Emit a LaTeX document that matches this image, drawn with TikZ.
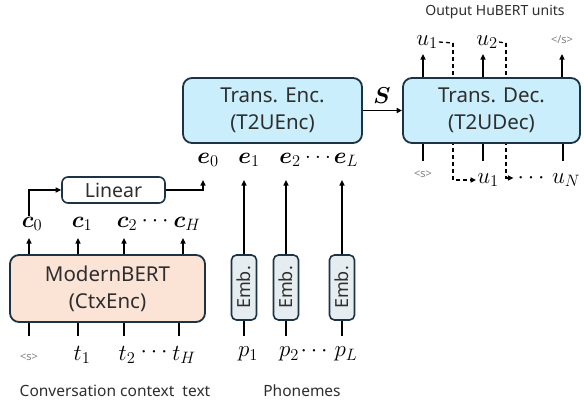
\RequirePackage{fix-cm}
\documentclass[tikz,border=0pt]{standalone}
\usepackage{amsmath,bm}
\usepackage{fontspec}
\setmainfont{Noto Sans}
\DeclareMathSizes{23}{23}{16.5}{12}
\usetikzlibrary{arrows.meta}
\definecolor{peach}{HTML}{FBE3D6}
\definecolor{blueF}{HTML}{CAEEFB}
\definecolor{embF}{HTML}{E6EDF0}
\definecolor{bord}{HTML}{1B3345}
\definecolor{txt}{HTML}{2E2E2E}
\definecolor{gtxt}{HTML}{808080}
\pgfdeclarelayer{bg}
\pgfsetlayers{bg,main}
\tikzset{
  bigbox/.style={draw=bord, line width=1.8pt, rounded corners=9pt, align=center,
    text=txt, font=\fontsize{20.5}{27}\selectfont, inner sep=0pt},
  embbox/.style={draw=bord, line width=1.6pt, rounded corners=5pt, fill=embF,
    minimum width=25, minimum height=65, inner sep=0pt, text=txt,
    font=\fontsize{18}{20}\selectfont},
  linbox/.style={draw=bord, line width=1.6pt, rounded corners=6pt, fill=white,
    minimum width=103, minimum height=26, inner sep=0pt, text=txt,
    font=\fontsize{19.5}{22}\selectfont},
  ml/.style={font=\fontsize{23}{26}\selectfont, inner sep=1pt},
  tinytxt/.style={font=\fontsize{11}{12}\selectfont, text=gtxt, inner sep=1pt},
  captxt/.style={font=\fontsize{15.5}{17}\selectfont, text=txt},
  arr/.style={line width=1.4pt, -{Triangle[length=5.5pt,width=5pt]}},
  ln/.style={line width=1.4pt},
  dsh/.style={line width=1.3pt, dash pattern=on 4pt off 3pt}
}
\begin{document}
\begin{tikzpicture}[x=1pt,y=-1pt]
\begin{pgfonlayer}{bg}
\fill[white] (0,0) rectangle (584,410);
\end{pgfonlayer}
\useasboundingbox (0,0) rectangle (584,410);

% boxes
\node[bigbox, fill=peach, minimum width=195, minimum height=67] (bert) at (107.5,288.5) {ModernBERT\\(CtxEnc)};
\node[bigbox, fill=blueF, minimum width=179, minimum height=65] (enc) at (272.5,110.5) {Trans. Enc.\\(T2UEnc)};
\node[bigbox, fill=blueF, minimum width=177, minimum height=65] (dec) at (491.5,110.5) {Trans. Dec.\\(T2UDec)};
\node[linbox] (lin) at (113.5,190) {Linear};
\node[embbox] (emb1) at (244,287.5) {\rotatebox{90}{Emb.}};
\node[embbox] (emb2) at (286,287.5) {\rotatebox{90}{Emb.}};
\node[embbox] (embL) at (342,287.5) {\rotatebox{90}{Emb.}};

% c labels
\node[ml] (c0) at (32,224) {$\bm{c}_0$};
\node[ml] (c1) at (82,224) {$\bm{c}_1$};
\node[ml] (c2) at (127,224) {$\bm{c}_2$};
\node[ml] (cd) at (157,221) {$\cdots$};
\node[ml] (cH) at (187,224) {$\bm{c}_H$};

% t labels
\node[tinytxt] (s0) at (29,357) {<s>};
\node[ml] (t1) at (82,355) {$t_1$};
\node[ml] (t2) at (127,355) {$t_2$};
\node[ml] (td) at (156,352) {$\cdots$};
\node[ml] (tH) at (184,355) {$t_H$};

% e labels
\node[ml] (e0) at (208,160) {$\bm{e}_0$};
\node[ml] (e1) at (249,160) {$\bm{e}_1$};
\node[ml] (e2) at (290,160) {$\bm{e}_2$};
\node[ml] (ed) at (318,157) {$\ldots$};
\node[ml] (eL) at (346,160) {$\bm{e}_L$};

% p labels
\node[ml] (p1) at (248,354) {$p_1$};
\node[ml] (p2) at (289,354) {$p_2$};
\node[ml] (pd) at (316,351) {$\cdots$};
\node[ml] (pL) at (346,354) {$p_L$};

% decoder labels
\node[ml] (uo1) at (427,42) {$u_1$};
\node[ml] (uo2) at (487,42) {$u_2$};
\node[tinytxt] (eos) at (562,40) {</s>};
\node[tinytxt] (sd) at (423,174) {<s>};
\node[ml] (ui1) at (488,180) {$u_1$};
\node[ml] (uid) at (533,178) {$\cdots$};
\node[ml] (uiN) at (566,180) {$u_N$};
\node[ml] (S) at (382,96) {$\bm{S}$};

% captions
\node[captxt] (cap1) at (115,391) {Conversation context\ \ text};
\node[captxt] (cap2) at (302,391) {Phonemes};
\node[font=\fontsize{14}{16}\selectfont, text=txt] (cap3) at (495,12) {Output HuBERT units};

% ModernBERT outputs
\foreach \x in {29,78,124,183} \draw[arr] (bert.north -| \x,0) -- (\x,238);
% ModernBERT inputs
\foreach \x in {29,78,124,179} \draw[ln] (bert.south -| \x,0) -- ++(0,13);

% Linear path
\draw[arr] (c0.north -| 29,0) |- (lin.west);
\draw[arr] (lin.east) -| (203,180);

% Emb to e
\draw[arr] (emb1.north) -- (emb1.north |- 0,180);
\draw[arr] (emb2.north) -- (emb2.north |- 0,180);
\draw[arr] (embL.north) -- (embL.north |- 0,180);
\foreach \n in {emb1,emb2,embL} \draw[ln] (\n.south) -- ++(0,15);

% S
\draw[arr] (enc.east) -- (dec.west);

% decoder outputs
\foreach \x in {423,483,562} \draw[arr] (dec.north -| \x,0) -- ++(0,-23);
% decoder inputs
\foreach \x in {423,483,563} \draw[ln] (dec.south -| \x,0) -- ++(0,17);

% dashed feedback (behind the decoder box)
\begin{pgfonlayer}{bg}
\coordinate (d1) at (453,43);
\coordinate (d2) at (506,43);
\draw[dsh] (uo1.east) -- (d1);
\draw[dsh, -{Triangle[length=5.5pt,width=5pt]}] (d1) |- (ui1.west);
\draw[dsh] (uo2.east) -- (d2);
\draw[dsh, -{Triangle[length=5.5pt,width=5pt]}] (d2) |- ([xshift=-3pt]uid.west);
\end{pgfonlayer}
\end{tikzpicture}
\end{document}
